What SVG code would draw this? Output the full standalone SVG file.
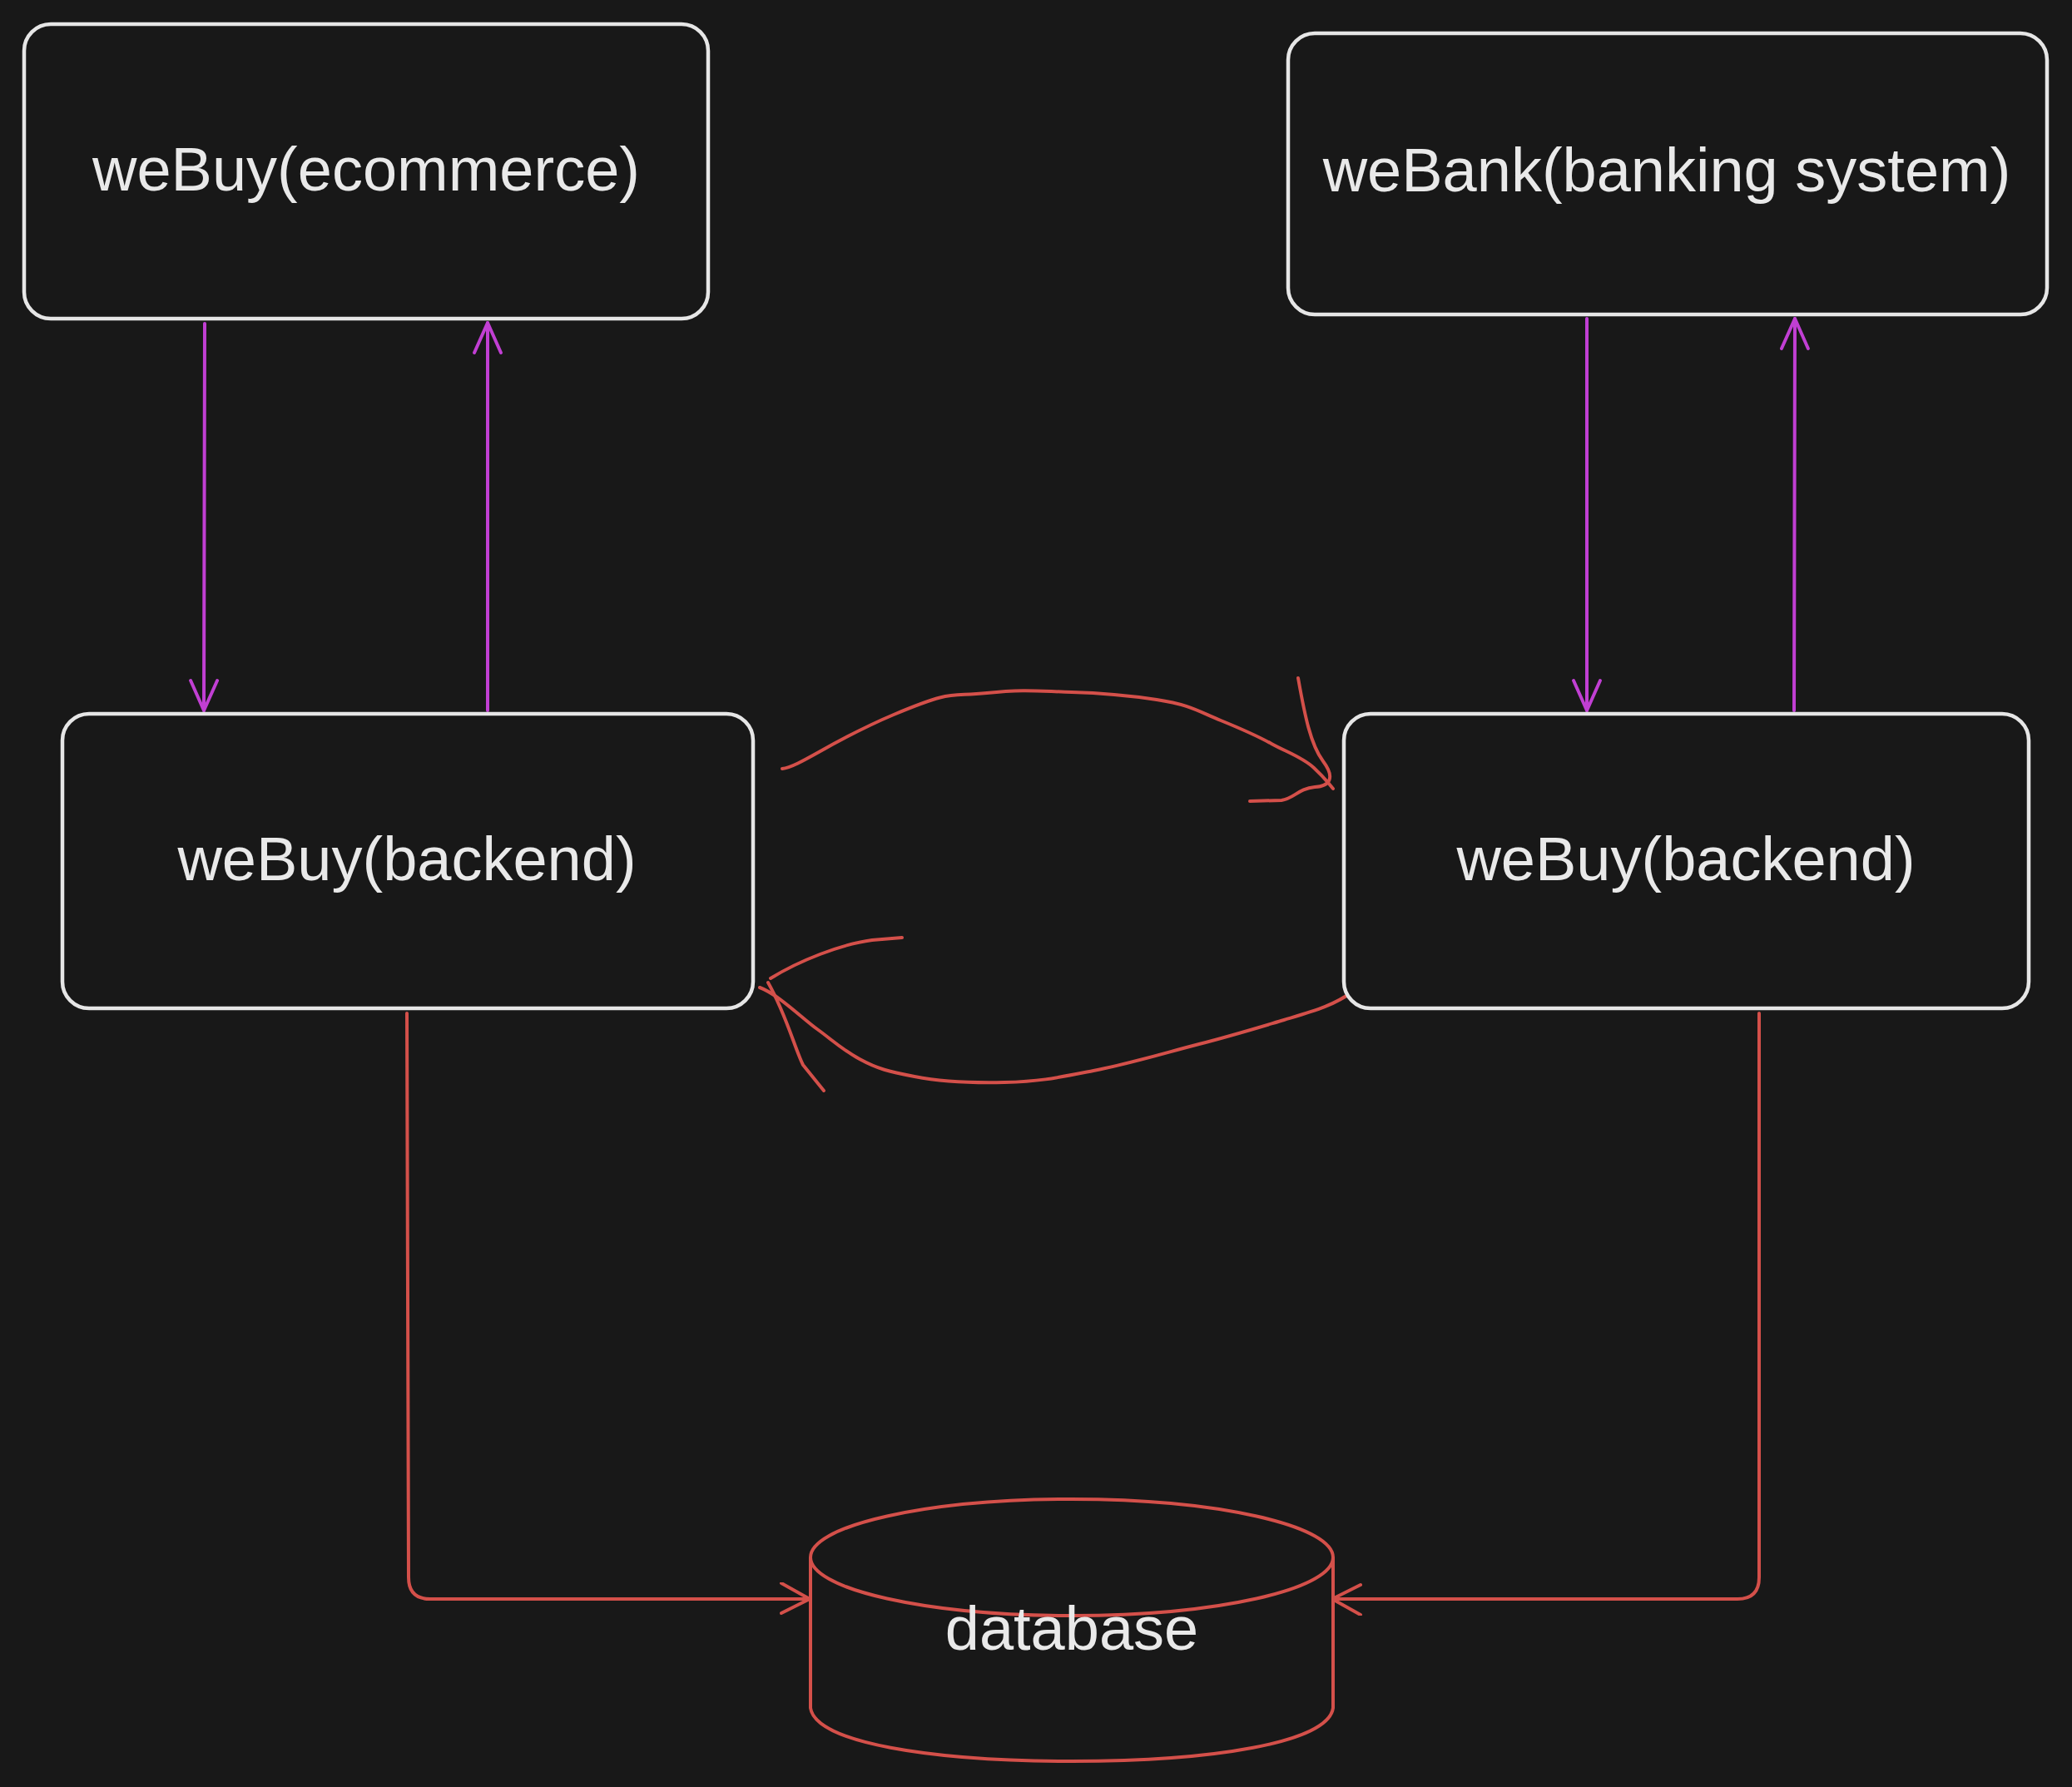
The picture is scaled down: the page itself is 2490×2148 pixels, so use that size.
<svg xmlns="http://www.w3.org/2000/svg" width="2490" height="2148" viewBox="0 0 2490 2148">
<defs>
<style>
.box{fill:#181818;stroke:#e6e6e6;stroke-width:4.5}
.lbl{font-family:"Liberation Sans",Arial,sans-serif;font-size:74px;fill:#e9e9e9;text-anchor:middle}
.pur{fill:none;stroke:#c13fd3;stroke-width:4;stroke-linecap:round;stroke-linejoin:round}
.red{fill:none;stroke:#d4504a;stroke-width:4;stroke-linecap:round;stroke-linejoin:round}
</style>
<marker id="mp" markerUnits="userSpaceOnUse" viewBox="-40 -20 44 40" refX="0" refY="0" markerWidth="44" markerHeight="40" orient="auto">
<path d="M -36 -16 L 0 0 L -36 16" fill="none" stroke="#c13fd3" stroke-width="4" stroke-linecap="round" stroke-linejoin="round"/>
</marker>
<marker id="mr" markerUnits="userSpaceOnUse" viewBox="-40 -20 44 40" refX="0" refY="0" markerWidth="44" markerHeight="40" orient="auto">
<path d="M -34 -19 L 0 0 L -34 17" fill="none" stroke="#d4504a" stroke-width="4" stroke-linecap="round" stroke-linejoin="round"/>
</marker>
</defs>
<rect width="2490" height="2148" fill="#181818"/>
<g id="connectors">
<path class="pur" d="M 246 389 L 245 854" marker-end="url(#mp)"/>
<path class="pur" d="M 586 854 L 586 388" marker-end="url(#mp)"/>
<path class="pur" d="M 1907 383 L 1907 854" marker-end="url(#mp)"/>
<path class="pur" d="M 2156 854 L 2157 383" marker-end="url(#mp)"/>
<path class="red" d="M 489 1218 L 491 1896 Q 491 1922 517 1922 L 973 1922" marker-end="url(#mr)"/>
<path class="red" d="M 2114 1218 L 2114 1896 Q 2114 1922 2088 1922 L 1601 1922" marker-end="url(#mr)"/>
<path class="red" d="M 940 924 C 960 922 1000 890 1074 859 S 1140 838 1186 833 S 1250 831 1288 832 S 1350 835 1390 841 S 1440 855 1467 866 S 1510 884 1528 894 S 1565 910 1579 923 S 1595 940 1602 948"/>
<path class="red" d="M 1560 815 C 1568 860 1575 895 1590 915 C 1605 935 1598 945 1580 946 C 1560 948 1555 960 1540 962 L 1502 963"/>
<path class="red" d="M 1629 1190 C 1600 1210 1580 1215 1543 1226 S 1480 1245 1441 1255 S 1360 1278 1314 1287 S 1250 1300 1207 1301 S 1130 1300 1099 1294 S 1055 1285 1033 1273 S 1000 1250 982 1237 S 935 1195 913 1187"/>
<path class="red" d="M 926 1176 C 960 1155 1010 1135 1048 1130 L 1084 1127"/>
<path class="red" d="M 923 1181 C 945 1220 955 1260 965 1280 L 990 1311"/>
</g>
<g id="ecommerce">
<rect class="box" x="29" y="29" width="822" height="354" rx="32"/>
<text class="lbl" x="440" y="229">weBuy(ecommerce)</text>
</g>
<g id="webank">
<rect class="box" x="1548" y="40" width="912" height="338" rx="32"/>
<text class="lbl" x="2003" y="230">weBank(banking system)</text>
</g>
<g id="backend-left">
<rect class="box" x="75" y="858" width="830" height="354" rx="32"/>
<text class="lbl" x="489" y="1058">weBuy(backend)</text>
</g>
<g id="backend-right">
<rect class="box" x="1615" y="858" width="823" height="354" rx="32"/>
<text class="lbl" x="2026" y="1058">weBuy(backend)</text>
</g>
<g id="database">
<path d="M 974 1872 L 974 2053 C 980 2095 1120 2117 1288 2117 C 1456 2117 1596 2095 1602 2053 L 1602 1872" fill="#181818" stroke="#d4504a" stroke-width="4"/>
<ellipse cx="1288" cy="1872" rx="314" ry="70" fill="#181818" stroke="#d4504a" stroke-width="4"/>
<text class="lbl" x="1288" y="1983">database</text>
</g>
</svg>
